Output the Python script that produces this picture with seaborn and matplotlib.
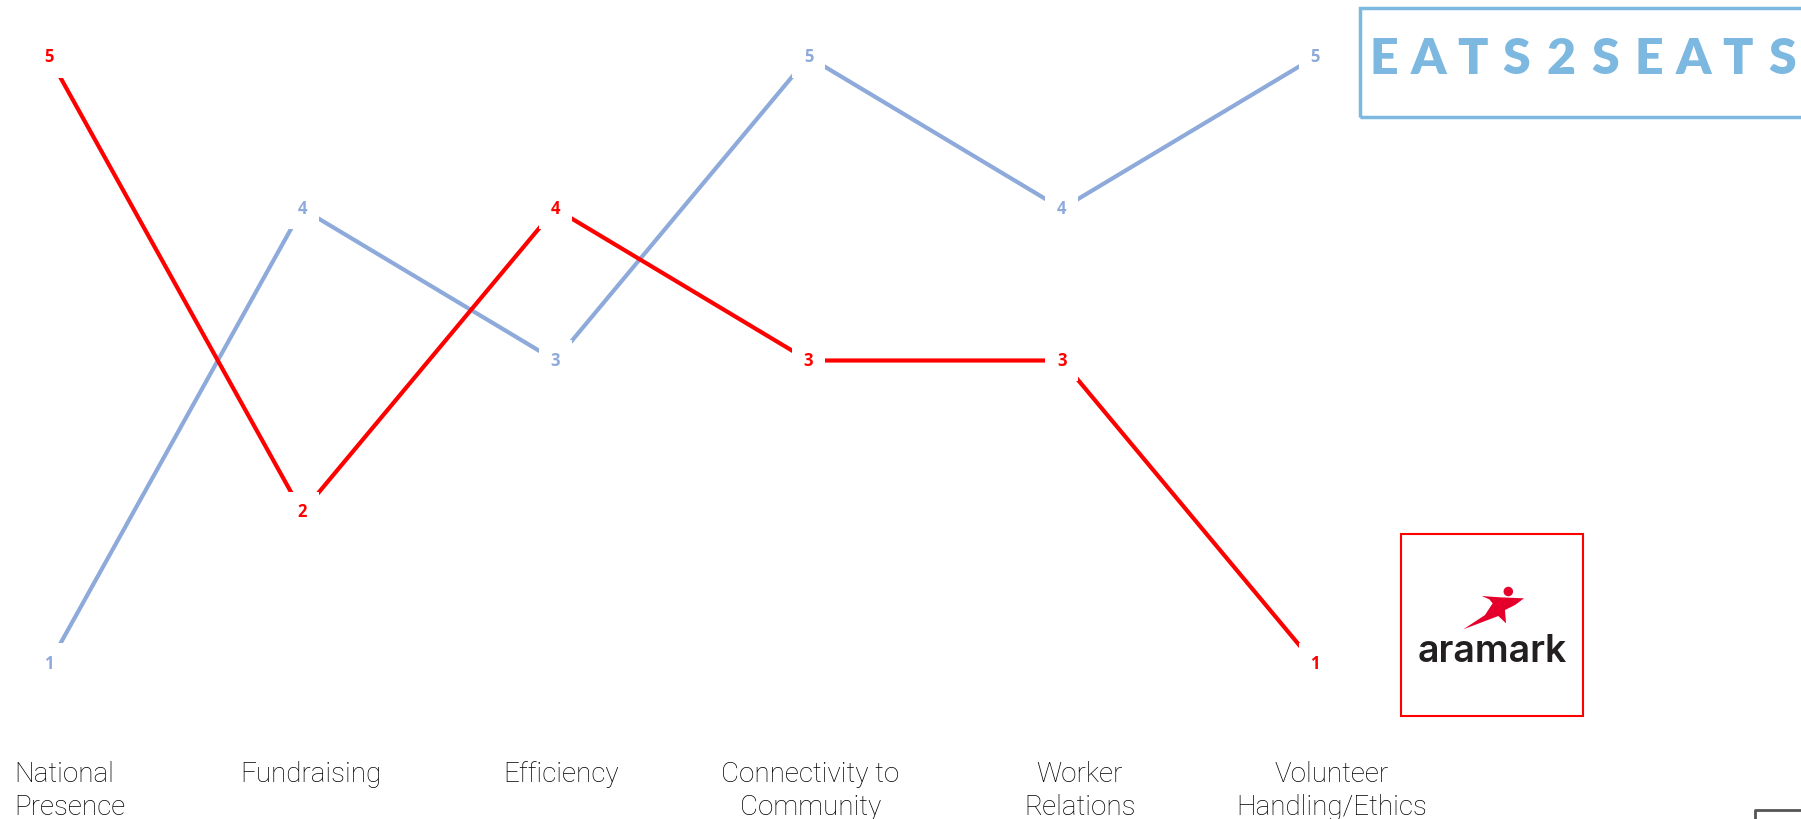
import numpy as np
import pandas as pd
import matplotlib
matplotlib.use("Agg")
import matplotlib.pyplot as plt
import seaborn as sns
from matplotlib.patches import Rectangle, Polygon, Ellipse

# ── Data ──
categories = ["National\nPresence", "Fundraising", "Efficiency",
              "Connectivity to\nCommunity", "Worker\nRelations", "Volunteer\nHandling/Ethics"]
eats2seats_scores = [1, 4, 3, 5, 4, 5]
aramark_scores = [5, 2, 4, 3, 3, 1]

blue = "#8EAADB"
red = "#FF0000"
logo_blue = "#7DB8E1"

W, H = 1801, 819
sns.set_theme(style="white")
plt.rcParams['font.family'] = ['Roboto', 'DejaVu Sans']

fig = plt.figure(figsize=(W / 100, H / 100), dpi=100)
ax = fig.add_axes([0, 0, 1, 1])


def px(x, y):
    # figure pixel (from top-left) -> figure fraction
    return x / W, 1 - y / H


df = pd.DataFrame({
    "pos": list(range(len(categories))) * 2,
    "score": eats2seats_scores + aramark_scores,
    "org": ["Eats2Seats"] * len(categories) + ["Aramark"] * len(categories),
})

sns.lineplot(data=df, x="pos", y="score", hue="org",
             palette={"Eats2Seats": blue, "Aramark": red},
             linewidth=3.0, legend=False, ax=ax, zorder=1)

# map data to pixel anchors: x0 -> 49px, x5 -> 1315px, y5 -> 57px, y1 -> 664px
xu = (1315 - 49) / 5
yu = (664 - 57) / 4
ax.set_xlim(-49 / xu, 5 + (W - 1315) / xu)
ax.set_ylim(1 - (H - 664) / yu, 5 + 57 / yu)
ax.axis("off")

# value labels with white background to break the lines
for i, (b, r) in enumerate(zip(eats2seats_scores, aramark_scores)):
    for v, c in ((b, blue), (r, red)):
        ax.text(i, v, str(v), color=c, fontsize=12, fontweight="bold",
                family=["Open Sans", "DejaVu Sans"], ha="center", va="center", zorder=3,
                bbox=dict(boxstyle="square,pad=0.7", fc="white", ec="none"))

# category labels (small pixel nudges, as in the slide)
label_nudge = [0, 9, 6, 2, 18, 17]
xt = ax.get_xaxis_transform()
for i, cat in enumerate(categories):
    if i == 0:
        ax.text(-35 / xu, 1 - 761 / H, cat, transform=xt, ha="left", va="top",
                fontsize=20, fontweight="light", color="#000000", linespacing=1.3)
    else:
        ax.text(i + label_nudge[i] / xu, 1 - 761 / H, cat, transform=xt, ha="center",
                va="top", fontsize=20, fontweight="light", color="#000000",
                linespacing=1.3, multialignment="center")

# Eats2Seats logo box
fig.patches.append(Rectangle(px(1360, 117), (W + 10 - 1360) / W, (117 - 8) / H,
                             transform=fig.transFigure, fill=False, ec=logo_blue, lw=2.5))
letters = "EATS2SEATS"
for k, ch in enumerate(letters):
    fx, fy = px(1384 + k * 44.2, 60)
    fig.text(fx, fy, ch, ha="center", va="center", fontsize=36, fontweight="heavy",
             color=logo_blue, family=["Lato", "DejaVu Sans"])

# Aramark logo box
fig.patches.append(Rectangle(px(1401, 716), (1583 - 1401) / W, (716 - 534) / H,
                             transform=fig.transFigure, fill=False, ec=red, lw=1.5))
star = [(95, 78), (150, 82), (222, 85), (195, 105), (165, 120), (168, 160),
        (145, 138), (40, 178), (105, 135), (128, 100), (118, 88)]
star = [px(1450 + x / 3, 570 + y / 3) for x, y in star]
fig.patches.append(Polygon(star, closed=True, transform=fig.transFigure, fc="#E4002B", ec="none"))
hx, hy = px(1508.3, 591.5)
fig.patches.append(Ellipse((hx, hy), 9.5 / W, 9.5 / H, transform=fig.transFigure,
                           fc="#E4002B", ec="none"))
tx, ty = px(1492, 652)
fig.text(tx, ty, "aramark", ha="center", va="center", fontsize=27, fontweight="semibold",
         color="#231F20", family=["Inter", "DejaVu Sans"])

# corner of a frame at bottom right
fig.lines.append(plt.Line2D([1755 / W, 1755 / W, 1], [0, 1 - 810 / H, 1 - 810 / H],
                            transform=fig.transFigure, color="#555555", lw=2))

fig.savefig("out.png", dpi=100)
